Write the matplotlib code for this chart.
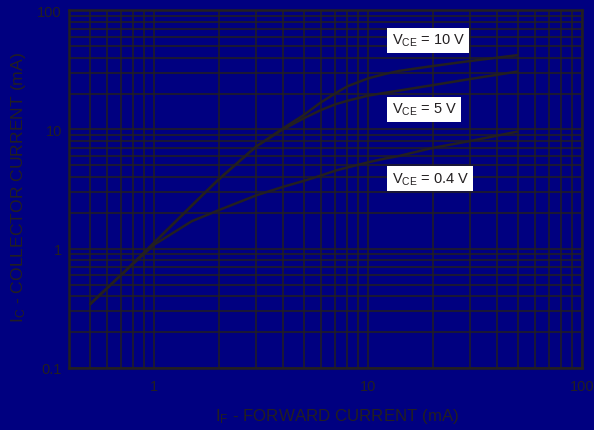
import numpy as np
import matplotlib.pyplot as plt
from matplotlib.ticker import LogLocator, NullFormatter, FixedLocator, FixedFormatter

plt.rcParams['font.family'] = ['Liberation Sans', 'DejaVu Sans']

# forward current (mA)
i_f = [0.5, 0.7, 1.0, 1.5, 2.0, 3.0, 4.0, 5.0, 6.0, 7.0, 8.0, 10.0, 12.0, 14.0, 20.0, 30.0, 50.0]
# collector current (mA) for each V_CE
ic_10v = [0.34, 0.60, 1.12, 2.3, 3.8, 7.2, 10.2, 13.2, 16.8, 20.0, 23.0, 26.8, 29.2, 31.0, 34.0, 37.5, 42.0]
ic_5v = [0.34, 0.60, 1.12, 2.3, 3.8, 7.2, 10.0, 12.4, 14.5, 16.2, 17.4, 19.2, 20.3, 21.2, 23.5, 26.5, 30.6]
ic_04v = [0.34, 0.60, 1.08, 1.70, 2.10, 2.80, 3.30, 3.70, 4.10, 4.50, 4.80, 5.30, 5.70, 6.0, 7.0, 8.0, 9.6]

labels = [r'$\mathregular{V_{CE}}$ = 10 V', r'$\mathregular{V_{CE}}$ = 5 V',
          r'$\mathregular{V_{CE}}$ = 0.4 V']
label_x = 12.9
label_y = [56, 14.8, 3.85]

navy = '#000080'
ink = '#231f20'

fig = plt.figure(figsize=(5.94, 4.31), dpi=100, facecolor=navy)
ax = fig.add_axes([0.116, 0.144, 0.864, 0.830])
ax.set_facecolor(navy)
ax.set_xscale('log')
ax.set_yscale('log')
ax.set_xlim(0.4, 100)
ax.set_ylim(0.1, 100)

for ic in (ic_10v, ic_5v, ic_04v):
    ax.plot(i_f, ic, color=ink, lw=1.8, solid_capstyle='butt', solid_joinstyle='round', zorder=3)

for txt, y in zip(labels, label_y):
    ax.text(label_x, y, txt, ha='left', va='center', fontsize=10.5, color=ink, zorder=4,
            bbox=dict(facecolor='white', edgecolor='none', pad=3.2))

ax.xaxis.set_major_locator(FixedLocator([1, 10, 100]))
ax.xaxis.set_major_formatter(FixedFormatter(['1', '10', '100']))
ax.yaxis.set_major_locator(FixedLocator([0.1, 1, 10, 100]))
ax.yaxis.set_major_formatter(FixedFormatter(['0.1', '1', '10', '100']))
ax.xaxis.set_minor_locator(LogLocator(base=10, subs=np.arange(2, 10), numticks=20))
ax.yaxis.set_minor_locator(LogLocator(base=10, subs=np.arange(2, 10), numticks=20))
ax.xaxis.set_minor_formatter(NullFormatter())
ax.yaxis.set_minor_formatter(NullFormatter())
ax.grid(True, which='both', color=ink, lw=1.1)
ax.tick_params(which='both', length=0, labelsize=10.5, colors=ink)
ax.tick_params(axis='x', pad=8)
ax.tick_params(axis='y', pad=5)
for s in ax.spines.values():
    s.set_color(ink)
    s.set_linewidth(1.8)

ax.set_xlabel(r'$\mathregular{I_F}$ - FORWARD CURRENT (mA)', fontsize=12.2, color=ink)
ax.set_ylabel(r'$\mathregular{I_C}$ - COLLECTOR CURRENT (mA)', fontsize=12.6, color=ink)
ax.xaxis.set_label_coords(0.523, -0.106)
ax.yaxis.set_label_coords(-0.080, 0.508)

fig.savefig('out.png', dpi=100, facecolor=navy)
